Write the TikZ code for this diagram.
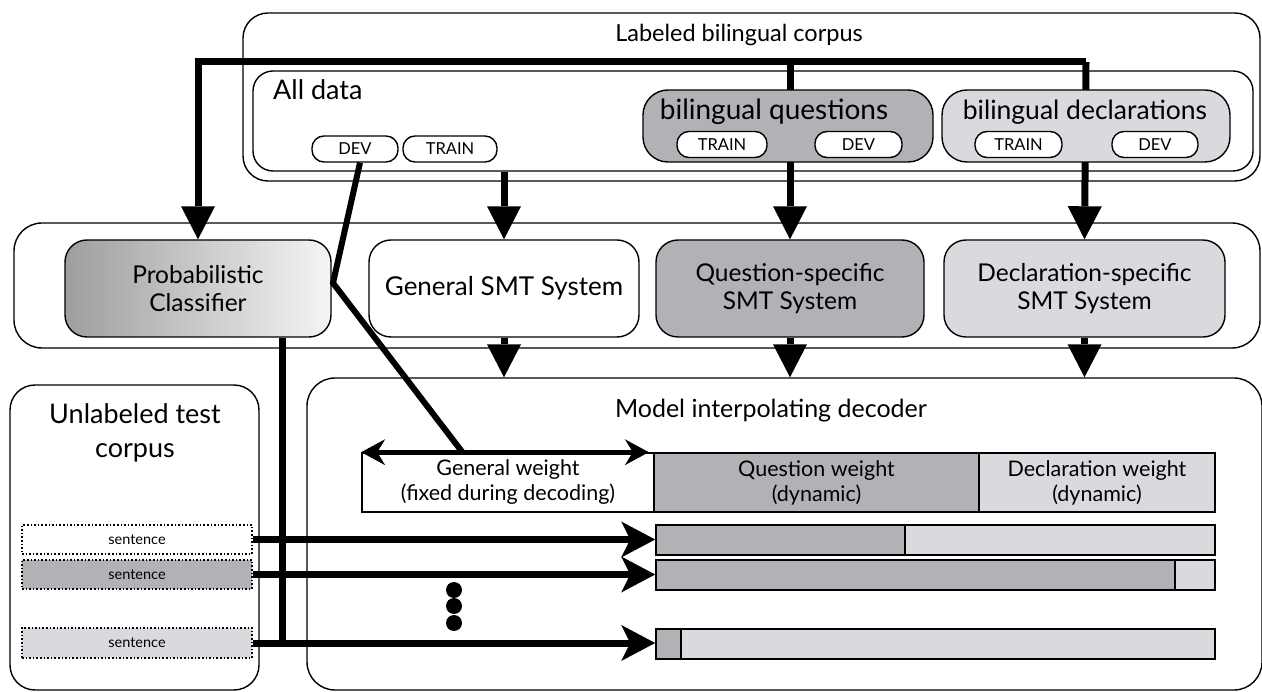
\documentclass[tikz,border=0pt]{standalone}
\usepackage{fontspec}
\setmainfont{Lato}
\usetikzlibrary{arrows.meta,calc}
\definecolor{dg}{HTML}{B1B2B5}
\definecolor{lg}{HTML}{D9DADE}
\newcommand\fsz[2]{\fontsize{#1}{#2}\selectfont}
\begin{document}
\begin{tikzpicture}[x=1pt,y=-1pt,
  bx/.style={draw,line width=1.4pt,rounded corners=#1,inner sep=0pt,align=center},
  bx/.default=20pt,
  pill/.style={draw,line width=1.4pt,rounded corners=12pt,inner sep=0pt,minimum height=26pt,font=\fsz{16.5}{18},fill=white},
  sent/.style={draw,dotted,line width=1.6pt,inner sep=0pt,minimum width=230pt,minimum height=29pt,font=\fsz{14.5}{16}},
  bar/.style={draw,line width=1.6pt,inner sep=0pt,minimum height=30pt},
  wt/.style={draw,line width=1.6pt,inner sep=0pt,minimum height=59pt,align=center,font=\fsz{21.5}{25}},
  thk/.style={line width=7pt},
  dn/.style={line width=7pt,-{Triangle[length=33pt,width=34pt,line width=0pt]}},
  hz/.style={line width=7pt,-{Stealth[length=34pt,width=36pt,inset=9pt,line width=0pt]}},
  dbl/.style={line width=5pt,{Stealth[length=24pt,width=26pt,inset=8pt,line width=0pt]}-{Stealth[length=24pt,width=26pt,inset=8pt,line width=0pt]}},
  mid/.style={bx=22pt,minimum width=#1,minimum height=97pt,font=\fsz{24.5}{28}},
  lbl/.style={inner sep=0pt}
]
\useasboundingbox (0,0) rectangle (1262,692);

% ---------- top: labeled bilingual corpus ----------
\node[bx=25pt,minimum width=1017pt,minimum height=168pt] (lab) at (751.5,97) {};
\node[lbl,anchor=base,font=\fsz{23.5}{27}] (labt) at (739,42) {Labeled bilingual corpus};
\node[bx=20pt,minimum width=1000pt,minimum height=100pt,fill=white] (all) at (753,121) {};
\node[lbl,anchor=base west,font=\fsz{27}{30}] (allt) at (273,100) {All data};
\node[pill,minimum width=86pt] (dev) at (355,149) {DEV};
\node[pill,minimum width=94pt] (train) at (450,149) {TRAIN};

% ---------- middle row frame ----------
\node[bx=28pt,minimum width=1246pt,minimum height=125pt] (midf) at (637,285.5) {};
\node[mid=266pt,left color=black!38,right color=white!96!black] (cls) at (198,288.5) {Probabilistic\\Classifier};
\node[mid=270pt,fill=white,font=\fsz{26}{30}] (gsmt) at (504,288.5) {General SMT System};
\node[mid=268pt,fill=dg] (qsmt) at (790,288.5) {Question-specific\\SMT System};
\node[mid=281pt,fill=lg] (dsmt) at (1084.5,288.5) {Declaration-specific\\SMT System};

% ---------- thick connectors from the corpus ----------
\coordinate (cr) at (1086,62);
\coordinate (cl) at (198,62);
\coordinate (cq) at (790,62);
\draw[dn,line join=miter] (cr) -- (cl) -- (cls.north);
\draw[dn] (cr) -- (dsmt.north);
\draw[dn] (cq) -- (qsmt.north);
\draw[dn] (all.south -| gsmt.north) -- (gsmt.north);

% ---------- bilingual subsets ----------
\node[bx=25pt,minimum width=290pt,minimum height=72pt,fill=dg] (qbox) at (788,126) {};
\node[lbl,anchor=base,font=\fsz{28}{32}] (qt) at (774,120) {bilingual questions};
\node[pill,minimum width=90pt] (qtr) at (722,144.5) {TRAIN};
\node[pill,minimum width=87pt] (qdv) at (858.5,144.5) {DEV};
\node[bx=25pt,minimum width=288pt,minimum height=72pt,fill=lg] (dbox) at (1086,126) {};
\node[lbl,anchor=base,font=\fsz{26.5}{30}] (dt) at (1085,120) {bilingual declarations};
\node[pill,minimum width=87pt] (dtr) at (1018.5,144.5) {TRAIN};
\node[pill,minimum width=86pt] (ddv) at (1155,144.5) {DEV};

% ---------- decoder & test corpus ----------
\node[bx=28pt,minimum width=955pt,minimum height=312pt] (dec) at (784.5,534) {};
\node[lbl,anchor=base,font=\fsz{25}{29}] (dect) at (771,418) {Model interpolating decoder};
\node[bx=25pt,minimum width=249pt,minimum height=305pt] (unl) at (134.5,537.5) {};
\node[lbl,align=center,font=\fsz{27}{34}] (unlt) at (135,433) {Unlabeled test\\corpus};

\draw[dn] (gsmt.south) -- (gsmt.south |- dec.north);
\draw[dn] (qsmt.south) -- (qsmt.south |- dec.north);
\draw[dn] (dsmt.south) -- (dsmt.south |- dec.north);

% weights
\node[wt,minimum width=292pt,fill=white] (gw) at (508,482.5) {General weight\\(fixed during decoding)};
\node[wt,minimum width=325pt,fill=dg] (qw) at (816.5,482.5) {Question weight\\(dynamic)};
\node[wt,minimum width=236pt,fill=lg] (dw) at (1097,482.5) {Declaration weight\\(dynamic)};

% sentences
\node[sent,fill=white] (s1) at (137,539.5) {sentence};
\node[sent,fill=dg] (s2) at (137,574.5) {sentence};
\node[sent,fill=lg,minimum height=30pt] (s3) at (137,643) {sentence};

% bars
\node[bar,fill=dg,minimum width=249pt] (b1q) at (780.5,540) {};
\node[bar,fill=lg,minimum width=310pt] (b1d) at (1060,540) {};
\node[bar,fill=dg,minimum width=519pt] (b2q) at (915.5,575) {};
\node[bar,fill=lg,minimum width=40pt] (b2d) at (1195,575) {};
\node[bar,fill=dg,minimum width=25pt] (b3q) at (668.5,644) {};
\node[bar,fill=lg,minimum width=534pt] (b3d) at (948,644) {};

% classifier output lines
\coordinate (vb) at (282,643);
\draw[thk] (cls.south -| vb) -- (vb);
\draw[hz] (s1.east) -- (s1.east -| b1q.west);
\draw[hz] (s2.east) -- (s2.east -| b2q.west);
\draw[hz] (s3.east) -- (s3.east -| b3q.west);

% dev line to the general weight
\coordinate (bend) at (333,283);
\coordinate (gwt) at (463,453);
\draw[line width=6pt,line join=miter] ([xshift=5pt]dev.south) -- (bend) -- (gwt);
\draw[dbl] (gw.north west) -- ([xshift=-6pt]gw.north east);

% dots
\fill (454,590) circle (8pt) (454,606) circle (8pt) (454,623) circle (8pt);
\end{tikzpicture}
\end{document}
